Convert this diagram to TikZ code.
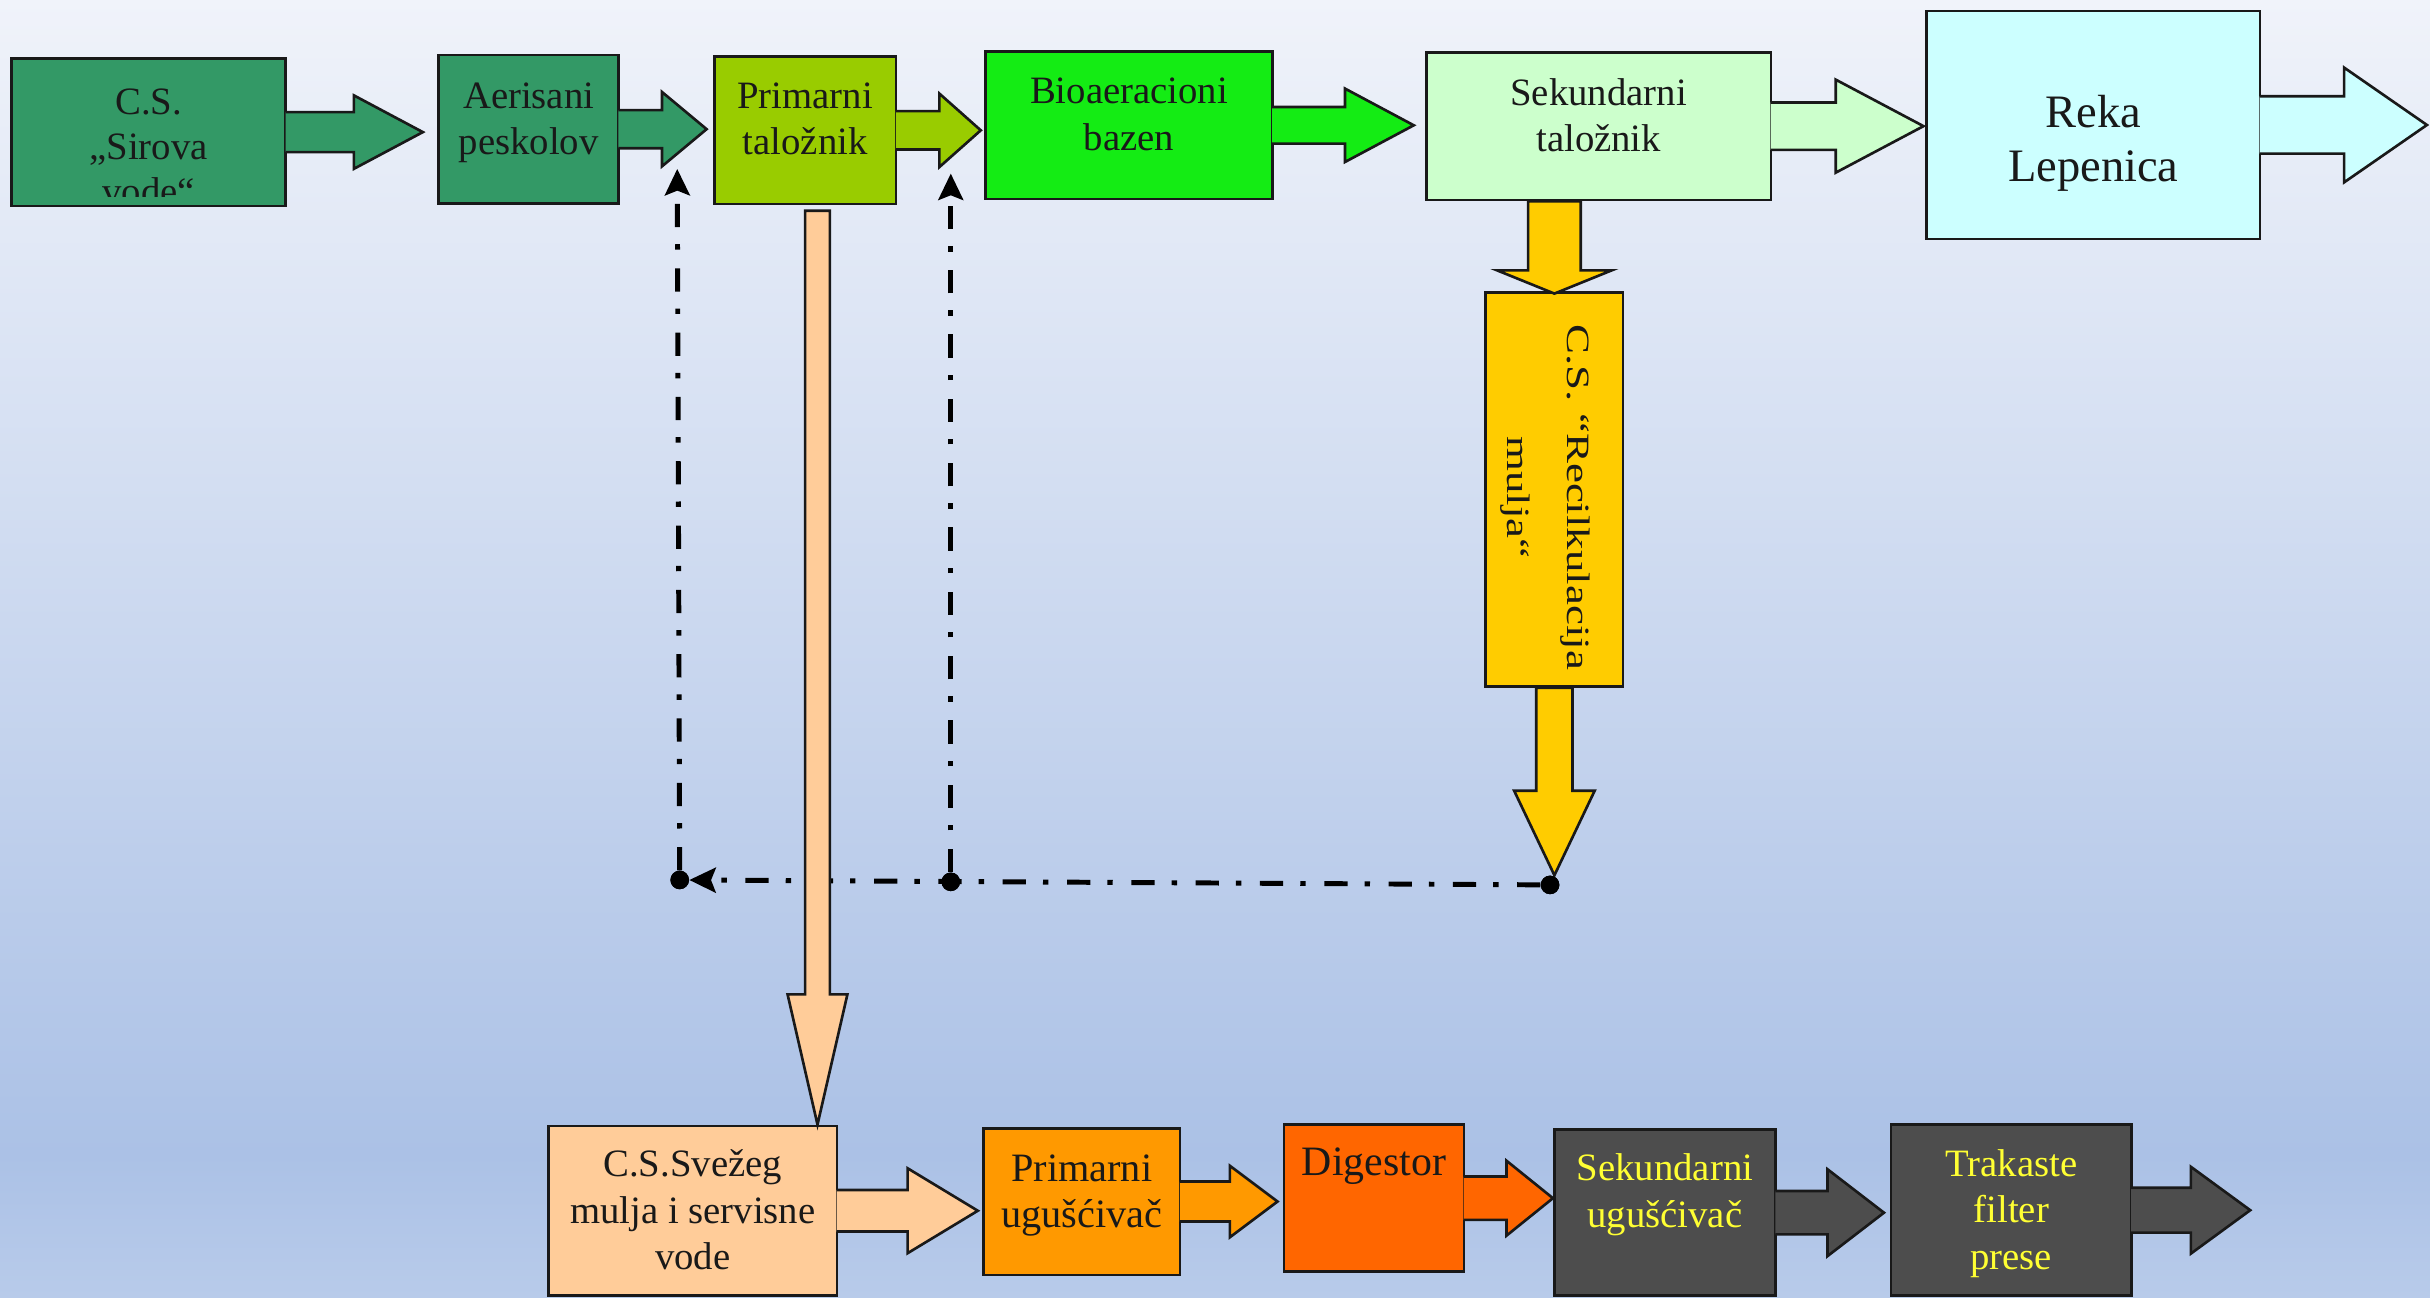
\documentclass[tikz,border=0pt]{standalone}
\usepackage{fontspec}
\setmainfont{Liberation Serif}
\usetikzlibrary{positioning, calc, arrows.meta}

\definecolor{csgreen}{RGB}{51,153,102}
\definecolor{primgreen}{RGB}{153,204,0}
\definecolor{biogreen}{RGB}{20,236,20}
\definecolor{palegreen}{RGB}{204,255,204}
\definecolor{palecyan}{RGB}{204,255,255}
\definecolor{recikyellow}{RGB}{255,204,0}
\definecolor{peach}{RGB}{255,204,153}
\definecolor{thickorange}{RGB}{255,153,0}
\definecolor{digorange}{RGB}{255,102,0}
\definecolor{pressgray}{RGB}{77,77,77}
\definecolor{labelyellow}{RGB}{255,255,51}
\definecolor{bgtop}{RGB}{240,243,250}
\definecolor{bgdeep}{RGB}{171,193,230}
\definecolor{bgbot}{RGB}{184,203,234}
% the path covers 25bp..75bp of the shading
\pgfdeclareverticalshading{bgshade}{100bp}{color(0bp)=(bgbot); color(25bp)=(bgbot); color(30.5bp)=(bgdeep); color(75bp)=(bgtop); color(100bp)=(bgtop)}

\begin{document}
\begin{tikzpicture}[
    x=1pt, y=-1pt,
    box/.style={draw=black!90, line width=1.7pt, rectangle, inner sep=0pt},
    txt/.style={font=\fontsize{25}{30}\selectfont, align=center, inner sep=0pt, text=black!90},
    flow/.style={draw=black!90, line width=1.7pt, line join=miter},
    harrow/.style n args={3}{to path={let \p1=(\tikztostart), \p2=(\tikztotarget) in
        (\x1,\y1+#1) -- (\x2-#3,\y1+#1) -- (\x2-#3,\y1+#2) -- (\x2,\y1)
        -- (\x2-#3,\y1-#2) -- (\x2-#3,\y1-#1) -- (\x1,\y1-#1)}},
    varrow/.style n args={3}{to path={let \p1=(\tikztostart), \p2=(\tikztotarget) in
        (\x1-#1,\y1) -- (\x1-#1,\y2+#3) -- (\x1-#2,\y2+#3) -- (\x1,\y2)
        -- (\x1+#2,\y2+#3) -- (\x1+#1,\y2+#3) -- (\x1+#1,\y1) -- cycle}},
    returnline/.style={line width=3.2pt, dash pattern=on 15pt off 12pt on 3.5pt off 11pt,
        -{Stealth[length=17pt, width=16pt, inset=3pt]}},
    junction/.style={circle, fill=black, inner sep=0pt, minimum size=12pt},
]

\useasboundingbox (0,0) rectangle (1568,837);
\shade[shading=bgshade] (0,0) rectangle (1568,837);

% Water line
\node[box, fill=csgreen, minimum width=177pt, minimum height=95.3pt] (sirova) at (95.9,85.25) {};
\node[box, fill=csgreen, minimum width=116.1pt, minimum height=95.7pt] (aer) at (341.15,83.35) {};
\node[box, fill=primgreen, minimum width=117.3pt, minimum height=95pt] (prim) at (519.55,84.1) {};
\node[box, fill=biogreen, minimum width=185pt, minimum height=95.1pt] (bio) at (728.5,80.85) {};
\node[box, fill=palegreen, minimum width=222.3pt, minimum height=95.2pt] (sek) at (1031.55,81.4) {};
\node[box, fill=palecyan, minimum width=215pt, minimum height=147.1pt] (reka) at (1350.7,80.65) {};
\coordinate (rekaout) at (1566,80.65);

% Sludge recirculation
\node[box, fill=recikyellow, minimum width=88.6pt, minimum height=254.2pt] (recik) at (1003,315.9) {};

% Sludge line
\node[box, fill=peach, minimum width=186pt, minimum height=109.5pt] (svez) at (447,781.25) {};
\node[box, fill=thickorange, minimum width=126.7pt, minimum height=94.6pt] (pugus) at (698.05,775.3) {};
\node[box, fill=digorange, minimum width=116.1pt, minimum height=94.7pt] (dig) at (886.55,773.15) {};
\node[box, fill=pressgray, minimum width=142.8pt, minimum height=107pt] (sugus) at (1074.3,782.5) {};
\node[box, fill=pressgray, minimum width=155pt, minimum height=110.2pt] (trak) at (1297.8,780.9) {};
\coordinate (trakout) at (1452,780.9);

% Labels
\begin{scope}
  \clip (sirova.north west) rectangle ([yshift=7pt]sirova.south east);
  \node[txt, font=\fontsize{25}{29}\selectfont, below=16.4pt of sirova.north] (sirovatxt) {\strut C.S.\\„Sirova\\vode“};
\end{scope}
\node[txt, below=14pt of aer.north] (aertxt) {\strut Aerisani\\peskolov};
\node[txt, below=12.9pt of prim.north] (primtxt) {\strut Primarni\\taložnik};
\node[txt, below=13.2pt of bio.north] (biotxt) {\strut Bioaeracioni\\bazen};
\node[txt, below=13.7pt of sek.north] (sektxt) {\strut Sekundarni\\taložnik};
\node[txt, font=\fontsize{30}{35}\selectfont, below=51.4pt of reka.north] (rekatxt) {\strut Reka\\Lepenica};
\node[txt, font=\fontsize{21}{39}\selectfont, rotate=-90, xscale=1.38] (reciktxt)
    at ([shift={(-6pt,-5pt)}]recik.center) {C.S.\ “Recilkulacija\\mulja“};
\node[txt, below=12.5pt of svez.north] (sveztxt) {\strut C.S.Svežeg\\mulja i servisne\\vode};
\node[txt, font=\fontsize{26}{30}\selectfont, below=13.8pt of pugus.north] (pugustxt) {\strut Primarni\\ugušćivač};
\node[txt, font=\fontsize{27}{30}\selectfont, below=12.3pt of dig.north] (digtxt) {\strut Digestor};
\node[txt, text=labelyellow, below=12.5pt of sugus.north] (sugustxt) {\strut Sekundarni\\ugušćivač};
\node[txt, text=labelyellow, below=12.7pt of trak.north] (traktxt) {\strut Trakaste\\filter\\prese};

% Return lines
\node[junction] (ldot) at (438.6,567.8) {};
\node[junction] (mdot) at (613.5,569) {};
\node[junction] (rdot) at (1000.2,571) {};
\coordinate (ltip) at (437,109);
\coordinate (mtip) at (613.5,112);
\draw[returnline] (rdot) -- (ldot);
\draw[returnline] (ldot) -- (ltip);
\draw[returnline] (mdot) -- (mtip);

% Block arrows, water line
\draw[flow, fill=csgreen, harrow={12.9pt}{23.7pt}{44.5pt}] ([xshift=-1pt]sirova.east) to ([xshift=-9.4pt]aer.west);
\draw[flow, fill=csgreen, harrow={12.3pt}{24pt}{28.8pt}] ([xshift=-1pt]aer.east) to ([xshift=-4.1pt]prim.west);
\draw[flow, fill=primgreen, harrow={12.4pt}{23.7pt}{26.7pt}] ([xshift=-1pt]prim.east) to ([xshift=-2.3pt]bio.west);
\draw[flow, fill=biogreen, harrow={11.8pt}{23.7pt}{44.4pt}] ([xshift=-1pt]bio.east) to ([xshift=-7.3pt]sek.west);
\draw[flow, fill=palegreen, harrow={15.3pt}{30pt}{56.6pt}] ([xshift=-1pt]sek.east) to ([xshift=-1.2pt]reka.west);
\draw[flow, fill=palecyan, harrow={18.5pt}{37pt}{53.4pt}] ([xshift=-1pt]reka.east) to (rekaout);

% Block arrows, recirculation and fresh sludge
\draw[flow, fill=recikyellow, varrow={17pt}{37pt}{15pt}] (recik.north |- sek.south) to ([yshift=-1.5pt]recik.north);
\draw[flow, fill=recikyellow, varrow={11.7pt}{26pt}{54.6pt}] (recik.south) to (rdot.north);
\coordinate (ptop) at (527.5,136);
\draw[flow, fill=peach, varrow={8pt}{19.3pt}{84pt}] (ptop) to (ptop |- svez.north);

% Block arrows, sludge line
\draw[flow, fill=peach, harrow={13.4pt}{27.4pt}{45.3pt}] ([xshift=-1pt]svez.east) to ([xshift=-2.9pt]pugus.west);
\draw[flow, fill=thickorange, harrow={12.9pt}{23.1pt}{30.8pt}] ([xshift=-1pt]pugus.east) to ([xshift=-3.3pt]dig.west);
\draw[flow, fill=digorange, harrow={14pt}{24.2pt}{30pt}] ([xshift=-1pt]dig.east) to (sugus.west);
\draw[flow, fill=pressgray, harrow={14pt}{28pt}{36.4pt}] ([xshift=-1pt]sugus.east) to ([xshift=-3.8pt]trak.west);
\draw[flow, fill=pressgray, harrow={14.5pt}{28pt}{38.3pt}] ([xshift=-1pt]trak.east) to (trakout);

% Junction dots on top
\node[junction] at (ldot) {};
\node[junction] at (mdot) {};
\node[junction] at (rdot) {};

\end{tikzpicture}
\end{document}
